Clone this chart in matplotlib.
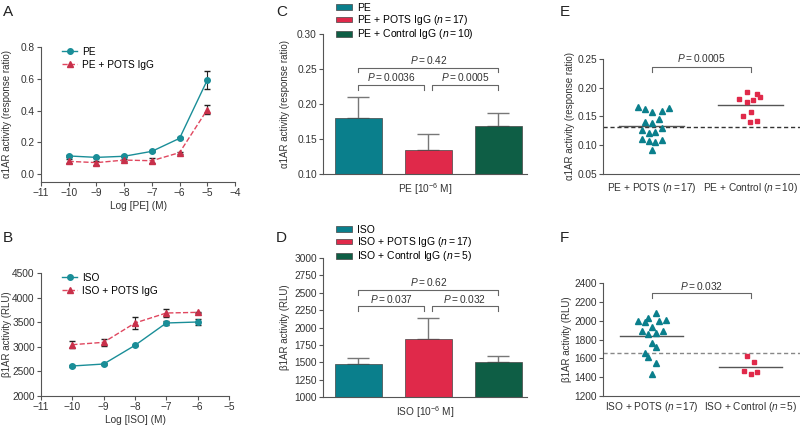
import numpy as np
from matplotlib import pyplot as plt
from matplotlib.lines import Line2D

plt.rcParams['font.family'] = ['Liberation Sans', 'DejaVu Sans']
plt.rcParams['mathtext.fontset'] = 'custom'
plt.rcParams['mathtext.rm'] = 'Liberation Sans'
plt.rcParams['mathtext.it'] = 'Liberation Sans:italic'
plt.rcParams['font.size'] = 7

TEAL = '#0a7f8c'
RED = '#e0294a'
GREEN = '#0e5e45'
LTEAL = '#1a8e98'
LRED = '#e0475f'
AXC = '#555555'
TXC = '#333333'

# A: PE concentration response
logpe = [-10, -9, -8, -7, -6, -5]
pe = [0.114, 0.105, 0.112, 0.143, 0.225, 0.592]
pe_err = [0.006, 0.005, 0.005, 0.006, 0.006, 0.059]
pe_pots = [0.080, 0.072, 0.088, 0.084, 0.135, 0.406]
pe_pots_err = [0.012, 0.012, 0.006, 0.014, 0.006, 0.027]

# B: ISO concentration response
logiso = [-10, -9, -8, -7, -6]
iso = [2610, 2650, 3030, 3484, 3504]
iso_err = [15, 15, 15, 40, 60]
iso_pots = [3043, 3091, 3484, 3687, 3700]
iso_pots_err = [70, 70, 130, 90, 15]

# C: bars at PE 10^-6 M
c_labels = ['PE', 'PE + POTS IgG ($n = 17$)', 'PE + Control IgG ($n = 10$)']
c_vals = [0.180, 0.134, 0.169]
c_err = [0.030, 0.023, 0.018]
c_p = ['$P = 0.0036$', '$P = 0.0005$', '$P = 0.42$']

# D: bars at ISO 10^-6 M
d_labels = ['ISO', 'ISO + POTS IgG ($n = 17$)', 'ISO + Control IgG ($n = 5$)']
d_vals = [1480, 1835, 1510]
d_err = [80, 305, 75]
d_p = ['$P = 0.037$', '$P = 0.032$', '$P = 0.62$']

# E: individual values, PE
e_cats = ['PE + POTS ($n = 17$)', 'PE + Control ($n = 10$)']
e_pots = [0.1669, 0.1628, 0.157, 0.159, 0.164, 0.140, 0.139, 0.1465, 0.130,
          0.1273, 0.122, 0.1227, 0.1116, 0.1076, 0.1064, 0.1087, 0.0924]
e_pots_dx = [-0.135, -0.061, 0.010, 0.111, 0.178, -0.061, 0.010, 0.077, 0.111,
             -0.098, -0.030, 0.040, -0.098, -0.030, 0.040, 0.111, 0.010]
e_ctrl = [0.1808, 0.1924, 0.1884, 0.1837, 0.175, 0.1785, 0.158, 0.1517, 0.1413, 0.1424]
e_ctrl_dx = [-0.114, -0.040, 0.061, 0.094, -0.040, 0.030, 0.000, -0.077, -0.007, 0.064]
e_base = 0.131
e_p = '$P = 0.0005$'

# F: individual values, ISO
f_cats = ['ISO + POTS ($n = 17$)', 'ISO + Control ($n = 5$)']
f_pots = [2000, 1989, 2025, 2078, 1993, 2004, 1936, 1890, 1894, 1855, 1866,
          1763, 1720, 1657, 1614, 1547, 1430]
f_pots_dx = [-0.137, -0.068, -0.031, 0.041, 0.079, 0.147, 0.007, -0.099, 0.113,
             -0.031, 0.041, 0.007, 0.041, -0.065, -0.031, 0.041, 0.007]
f_ctrl = [1621, 1565, 1465, 1430, 1458]
f_ctrl_dx = [-0.038, 0.034, -0.068, 0.000, 0.068]
f_base = 1657
f_p = '$P = 0.032$'

W, H = 800, 426
fig = plt.figure(figsize=(W / 100, H / 100), dpi=100)


def add_ax(l, r, t, b):
    return fig.add_axes([l / W, 1 - b / H, (r - l) / W, (b - t) / H])


def style(ax, xticks=True):
    for s in ['top', 'right']:
        ax.spines[s].set_visible(False)
    for s in ['left', 'bottom']:
        ax.spines[s].set_color(AXC)
        ax.spines[s].set_linewidth(0.8)
    ax.tick_params(direction='out', length=3, width=0.8, color=AXC,
                   labelsize=7.3, labelcolor=TXC, pad=1.5)
    if not xticks:
        ax.tick_params(axis='x', length=0)


def ylab(ax, text, xpix, l):
    ax.set_ylabel(text, fontsize=7, color=TXC)
    ax.yaxis.set_label_coords((xpix - l) / ax.get_position().width / W, 0.5)


def letter(x, y, s):
    fig.text(x / W, 1 - y / H, s, fontsize=11, color='#222222', va='center', ha='left')


def bracket(ax, x0, x1, top, leg, text, ty):
    ax.plot([x0, x0, x1, x1], [leg, top, top, leg], color='#666666', lw=0.8, clip_on=False)
    ax.text((x0 + x1) / 2, ty, text, ha='center', va='center', fontsize=7.3, color=TXC)


# ---- A
ax = add_ax(41, 235, 47, 182)
style(ax)
ax.errorbar(logpe, pe, yerr=pe_err, color=LTEAL, marker='o', ms=4, lw=1,
            ecolor='#222222', elinewidth=0.8, capsize=2.5)
ax.errorbar(logpe, pe_pots, yerr=pe_pots_err, color=LRED, marker='^', ms=4, lw=1,
            ls='--', mfc='#c8304a', mec='#c8304a', ecolor='#222222', elinewidth=0.8,
            capsize=2.5)
ax.set_xlim(-11, -4)
ax.set_ylim(-0.05, 0.8)
ax.set_xticks(range(-11, -3))
ax.set_yticks([0, 0.2, 0.4, 0.6, 0.8])
ax.set_yticklabels(['%.1f' % v for v in [0, 0.2, 0.4, 0.6, 0.8]])
ax.set_xlabel('Log [PE] (M)', fontsize=7.3, color=TXC, labelpad=2)
ylab(ax, 'α1AR activity (response ratio)', 12, 41)
h = [Line2D([], [], color=LTEAL, marker='o', ms=4, lw=1),
     Line2D([], [], color=LRED, marker='^', ms=4, lw=1, ls='--', mfc='#c8304a', mec='#c8304a')]
ax.legend(h, ['PE', 'PE + POTS IgG'], loc='upper left', bbox_to_anchor=(62 / W, 1 - 47 / H),
          bbox_transform=fig.transFigure, frameon=False, borderpad=0, borderaxespad=0,
          handlelength=1.5, handletextpad=0.5, labelspacing=0.25, fontsize=7.3)
letter(3, 12, 'A')

# ---- B
ax = add_ax(41, 229, 273, 396)
style(ax)
ax.errorbar(logiso, iso, yerr=iso_err, color=LTEAL, marker='o', ms=4, lw=1,
            ecolor='#222222', elinewidth=0.8, capsize=2.5)
ax.errorbar(logiso, iso_pots, yerr=iso_pots_err, color=LRED, marker='^', ms=4, lw=1,
            ls='--', mfc='#c8304a', mec='#c8304a', ecolor='#222222', elinewidth=0.8,
            capsize=2.5)
ax.set_xlim(-11, -5)
ax.set_ylim(2000, 4500)
ax.set_xticks(range(-11, -4))
ax.set_yticks(range(2000, 4501, 500))
ax.set_xlabel('Log [ISO] (M)', fontsize=7.3, color=TXC, labelpad=2)
ylab(ax, 'β1AR activity (RLU)', 12, 41)
ax.legend(h, ['ISO', 'ISO + POTS IgG'], loc='upper left', bbox_to_anchor=(62 / W, 1 - 273 / H),
          bbox_transform=fig.transFigure, frameon=False, borderpad=0, borderaxespad=0,
          handlelength=1.5, handletextpad=0.5, labelspacing=0.25, fontsize=7.3)
letter(3, 238, 'B')


def bars(ax, vals, err, labels, ytop):
    x = np.arange(len(vals))
    b = ax.bar(x, vals, width=0.67, color=[TEAL, RED, GREEN], edgecolor='#444444',
               lw=0.5, zorder=2)
    ax.errorbar(x, vals, yerr=[np.zeros(len(err)), err], fmt='none', ecolor='#777777',
                elinewidth=1, capsize=8, capthick=1, zorder=1)
    ax.set_xlim(-0.5, 2.41)
    ax.set_xticks([])
    ax.legend(b, labels, loc='upper left', bbox_to_anchor=(336 / W, 1 - ytop / H),
              bbox_transform=fig.transFigure, frameon=False, borderpad=0, borderaxespad=0,
              handlelength=1.5, handleheight=0.5, handletextpad=0.5, labelspacing=0.02,
              fontsize=7.5)


# ---- C
ax = add_ax(323, 527, 34, 174)
style(ax, xticks=False)
bars(ax, c_vals, c_err, c_labels, 3)
ax.set_ylim(0.10, 0.30)
ax.set_yticks(np.arange(0.10, 0.301, 0.05))
ax.set_yticklabels(['%.2f' % v for v in np.arange(0.10, 0.301, 0.05)])
ax.set_xlabel('PE [10$^{-6}$ M]', fontsize=7.3, color=TXC, labelpad=5)
ylab(ax, 'α1AR activity (response ratio)', 290, 323)
bracket(ax, 0, 0.94, 0.2265, 0.220, c_p[0], 0.238)
bracket(ax, 1.05, 2, 0.2265, 0.220, c_p[1], 0.238)
bracket(ax, 0, 2, 0.252, 0.2456, c_p[2], 0.263)
letter(276, 12, 'C')

# ---- D
ax = add_ax(323, 527, 258, 397)
style(ax, xticks=False)
bars(ax, d_vals, d_err, d_labels, 225)
ax.set_ylim(1000, 3000)
ax.set_yticks(range(1000, 3001, 250))
ax.set_xlabel('ISO [10$^{-6}$ M]', fontsize=7.3, color=TXC, labelpad=5)
ylab(ax, 'β1AR activity (RLU)', 290, 323)
bracket(ax, 0, 0.94, 2305, 2233, d_p[0], 2410)
bracket(ax, 1.05, 2, 2305, 2233, d_p[1], 2410)
bracket(ax, 0, 2, 2535, 2472, d_p[2], 2655)
letter(276, 238, 'D')


def scatter(ax, pots, pots_dx, ctrl, ctrl_dx, base, cats, half, bcol):
    ax.plot(np.array(pots_dx), pots, ls='none', marker='^', ms=4, color=TEAL, zorder=3)
    ax.plot(1 + np.array(ctrl_dx), ctrl, ls='none', marker='s', ms=3.5, color=RED, zorder=3)
    ax.plot([-half, half], [np.mean(pots)] * 2, color='#555555', lw=1, zorder=2)
    ax.plot([1 - half, 1 + half], [np.mean(ctrl)] * 2, color='#555555', lw=1, zorder=2)
    ax.axhline(base, color=bcol, lw=1, ls=(0, (3, 2)), zorder=1)
    ax.set_xlim(-0.49, 1.5)
    ax.set_xticks([0, 1])
    ax.set_xticklabels(cats, fontsize=7.3)


# ---- E
ax = add_ax(603, 800, 59, 174)
style(ax, xticks=False)
scatter(ax, e_pots, e_pots_dx, e_ctrl, e_ctrl_dx, e_base, e_cats, 0.33, '#333333')
ax.set_ylim(0.05, 0.25)
ax.set_yticks(np.arange(0.05, 0.251, 0.05))
ax.set_yticklabels(['%.2f' % v for v in np.arange(0.05, 0.251, 0.05)])
ax.tick_params(axis='x', pad=5)
ylab(ax, 'α1AR activity (response ratio)', 575, 603)
bracket(ax, 0, 1, 0.2366, 0.2267, e_p, 0.251)
letter(560, 12, 'E')

# ---- F
ax = add_ax(603, 800, 283, 396)
style(ax, xticks=False)
scatter(ax, f_pots, f_pots_dx, f_ctrl, f_ctrl_dx, f_base, f_cats, 0.32, '#888888')
ax.set_ylim(1200, 2400)
ax.set_yticks(range(1200, 2401, 200))
ax.tick_params(axis='x', pad=3)
ylab(ax, 'β1AR activity (RLU)', 572, 603)
bracket(ax, 0, 1, 2294, 2241, f_p, 2365)
letter(560, 238, 'F')

fig.savefig('out.png', dpi=100)
